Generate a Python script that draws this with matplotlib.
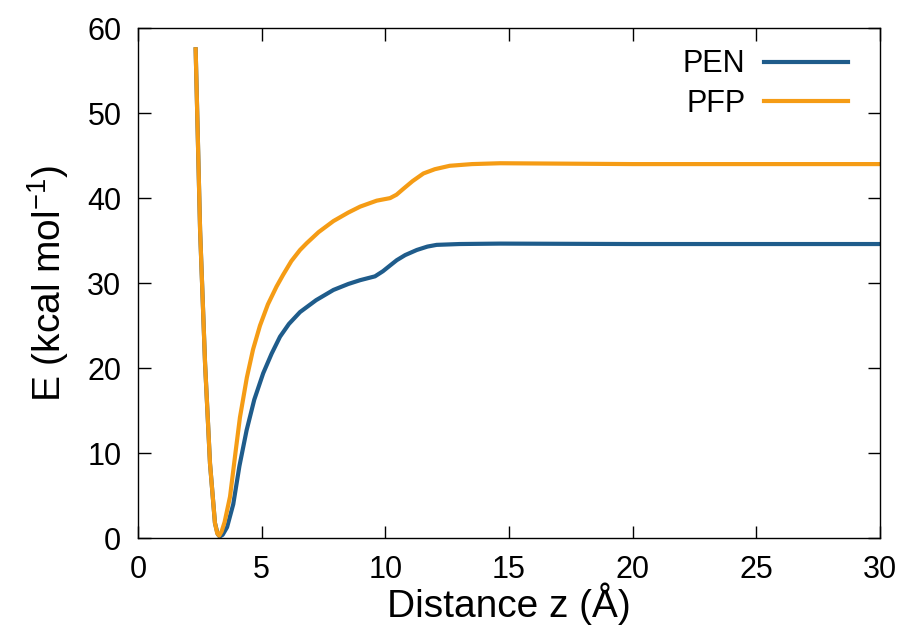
import matplotlib
matplotlib.use("Agg")
import matplotlib.pyplot as plt

plt.rcParams['font.family'] = ['Liberation Sans', 'DejaVu Sans']

# values
pen_z = [2.33, 2.51, 2.71, 2.91, 3.11, 3.22, 3.3, 3.42, 3.6, 3.85, 4.1, 4.39,
         4.7, 5.06, 5.4, 5.74, 6.1, 6.55, 7.2, 7.9, 8.5, 8.98, 9.58, 9.9, 10.2,
         10.46, 10.8, 11.27, 11.7, 12.07, 13.0, 14.64, 20.0, 30.0]
pen_e = [57.5, 36.2, 20.6, 8.8, 1.8, 0.5, 0.2, 0.4, 1.3, 4.0, 8.5, 12.7,
         16.3, 19.4, 21.7, 23.7, 25.2, 26.6, 28.0, 29.2, 29.9, 30.35, 30.8,
         31.4, 32.1, 32.7, 33.3, 33.9, 34.3, 34.5, 34.6, 34.65, 34.6, 34.6]

pfp_z = [2.33, 2.51, 2.71, 2.91, 3.11, 3.2, 3.28, 3.38, 3.5, 3.72, 3.95, 4.12,
         4.4, 4.65, 4.93, 5.25, 5.6, 5.87, 6.2, 6.55, 6.82, 7.3, 7.9, 8.5,
         8.98, 9.65, 10.19, 10.45, 10.73, 11.1, 11.54, 12.0, 12.6, 13.5, 14.64,
         20.0, 30.0]
pfp_e = [57.5, 36.2, 20.6, 8.8, 1.8, 0.6, 0.3, 0.8, 1.9, 4.9, 10.3, 14.2,
         18.9, 22.2, 25.0, 27.5, 29.6, 31.0, 32.6, 33.9, 34.7, 36.0, 37.3,
         38.3, 39.0, 39.7, 40.0, 40.4, 41.1, 42.0, 42.9, 43.4, 43.8, 44.0,
         44.1, 44.0, 44.0]

fig = plt.figure(figsize=(9.05, 6.37), dpi=100)
ax = fig.add_axes([0.1525, 0.155, 0.82, 0.801])

ax.plot(pen_z, pen_e, color='#1f5c8b', lw=3, label='PEN')
ax.plot(pfp_z, pfp_e, color='#f59c15', lw=3, label='PFP')

ax.set_xlim(0, 30)
ax.set_ylim(0, 60)
ax.set_xticks(range(0, 31, 5))
ax.set_yticks(range(0, 61, 10))
ax.tick_params(direction='in', top=True, right=True, length=9, width=1,
               labelsize=22, pad=12)
for s in ax.spines.values():
    s.set_linewidth(1)

ax.set_xlabel('Distance z (Å)', fontsize=28, labelpad=-2)
ax.set_ylabel('E (kcal mol$^{\\mathregular{-1}}$)', fontsize=28, labelpad=12)

ax.legend(loc='upper right', frameon=False, markerfirst=False, fontsize=22,
          handlelength=2.75, handletextpad=0.6, labelspacing=0.3,
          borderaxespad=0.3, bbox_to_anchor=(0.985, 1.0))

fig.savefig('out.png', dpi=100)
